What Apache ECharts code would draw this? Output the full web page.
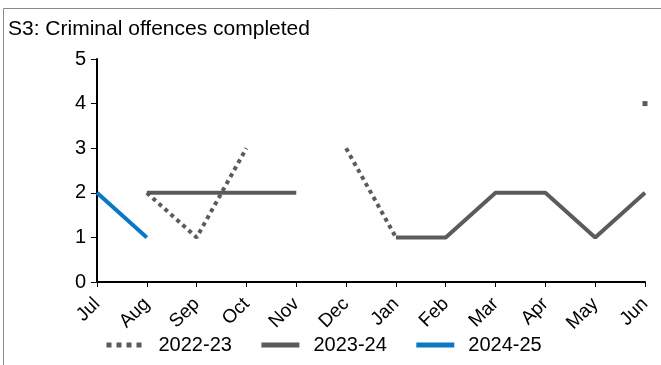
<!DOCTYPE html>
<html><head><meta charset="utf-8">
<script src="https://cdn.jsdelivr.net/npm/echarts@6/dist/echarts.min.js"></script>
<style>html,body{margin:0;padding:0;background:#fff}#c{width:661px;height:365px}</style>
</head><body><div id="c"></div>
<script>
const categories = ['Jul','Aug','Sep','Oct','Nov','Dec','Jan','Feb','Mar','Apr','May','Jun'];
const s2022 = [null, 2, 1, 3, null, 3, 1, null, null, null, null, 4];
const s2023 = [null, 2, 2, 2, 2, null, 1, 1, 2, 2, 1, 2];
const s2024 = [2, 1, null, null, null, null, null, null, null, null, null, null];
const seriesNames = ['2022-23','2023-24','2024-25'];
const yTicks = [0,1,2,3,4,5];

const FONT = 'Liberation Sans, Arial, sans-serif';
const chart = echarts.init(document.getElementById('c'));
const s2022Data = s2022.map((v,i)=> (i===11 ? {value:v, symbol:'rect', symbolSize:5, itemStyle:{color:'#5a5b5e'}} : v));
chart.setOption({
  animation:false,
  graphic:[{type:'rect', shape:{x:3.5,y:8.5,width:700,height:400}, style:{fill:null, stroke:'#8a8a8a', lineWidth:1}, silent:true}],
  title:{text:'S3: Criminal offences completed', left:3, top:14, textStyle:{fontFamily:FONT, fontSize:21, fontWeight:'normal', color:'#000'}},
  grid:{left:97, right:16, top:59, bottom:83},
  xAxis:{type:'category', data:categories, boundaryGap:false,
    axisLine:{lineStyle:{color:'#000', width:2}},
    axisTick:{show:true, alignWithLabel:true, length:5, lineStyle:{color:'#000', width:1}},
    axisLabel:{rotate:45, fontFamily:FONT, fontSize:19, color:'#000', margin:19, interval:0},
    splitLine:{show:false}},
  yAxis:{type:'value', min:yTicks[0], max:yTicks[yTicks.length-1], interval:1,
    axisLine:{show:true, lineStyle:{color:'#000', width:2}},
    axisTick:{show:true, length:6, lineStyle:{color:'#000', width:1}},
    axisLabel:{fontFamily:FONT, fontSize:20, color:'#000', margin:11},
    splitLine:{show:false}},
  legend:{top:335, left:104, padding:0, itemWidth:38, itemHeight:12, itemGap:27,
    itemStyle:{opacity:0},
    lineStyle:{width:5},
    textStyle:{fontFamily:FONT, fontSize:20, color:'#000', padding:[0,0,0,9]},
    data:[{name:seriesNames[0], lineStyle:{type:[5,5]}}, seriesNames[1], seriesNames[2]]},
  series:[
    {name:seriesNames[0], type:'line', data:s2022Data, symbol:'none', showSymbol:true, connectNulls:false,
      lineStyle:{color:'#5a5b5e', width:4, type:[4,4], cap:'butt'}, itemStyle:{color:'#5a5b5e'}, z:2},
    {name:seriesNames[1], type:'line', data:s2023, symbol:'none', connectNulls:false,
      lineStyle:{color:'#5a5b5e', width:4, type:'solid'}, itemStyle:{color:'#5a5b5e'}, z:3},
    {name:seriesNames[2], type:'line', data:s2024, symbol:'none', connectNulls:false,
      lineStyle:{color:'#0a78c2', width:4}, itemStyle:{color:'#0a78c2'}, z:4}
  ]
});
</script></body></html>
